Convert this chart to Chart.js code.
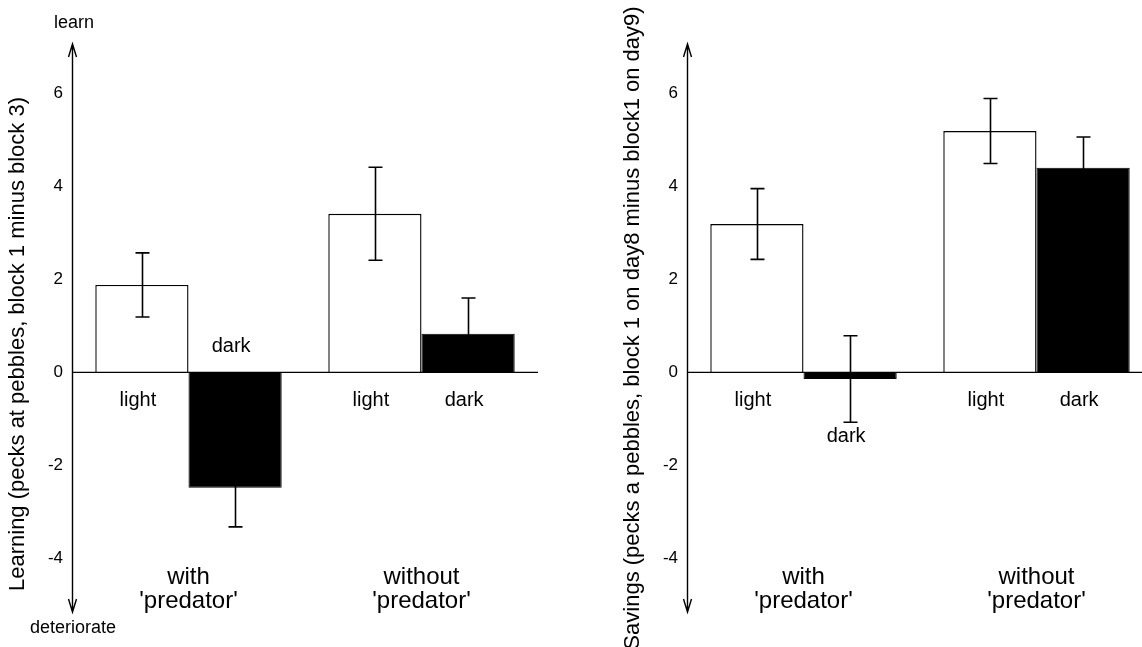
<!DOCTYPE html>
<html>
<head>
<meta charset="utf-8">
<script src="https://cdn.jsdelivr.net/npm/chart.js@4/dist/chart.umd.min.js"></script>
<style>
html,body{margin:0;padding:0;background:#fff;overflow:hidden;width:1142px;height:647px}
canvas{position:absolute;top:0}
#left{left:0}
#right{left:571px}
</style>
</head>
<body>
<canvas id="left" width="571" height="647"></canvas>
<canvas id="right" width="582" height="647"></canvas>
<script>
// groups on the x axis, two bars each (light, dark)
const groups=["with","without"]
const groupLines=[["with","'predator'"],["without","'predator'"]]
const barNames=["light","dark"]
const yTicks=[-4,-2,0,2,4,6]

// left panel: learning
const learnLight=[1.87,3.40]
const learnLightErr=[0.69,1.0]
const learnDark=[-2.49,0.82]
const learnDarkErr=[0.84,0.77]

// right panel: savings
const saveLight=[3.18,5.18]
const saveLightErr=[0.76,0.70]
const saveDark=[-0.15,4.39]
const saveDarkErr=[0.93,0.66]

const FONT="'Liberation Sans', Arial, sans-serif"
Chart.defaults.font.family=FONT
Chart.defaults.color="#000"

const decor={
id:"decor",
afterDatasetsDraw(chart,args,o){
const c=chart.ctx, a=chart.chartArea, ys=chart.scales.y, xs=chart.scales.x
const y0=ys.getPixelForValue(0)
c.save()
c.strokeStyle="#000"
c.fillStyle="#000"

// zero line
c.lineWidth=1.3
c.beginPath()
c.moveTo(a.left,y0+0.5)
c.lineTo(a.right,y0+0.5)
c.stroke()

// error bars
c.lineWidth=1.6
o.errs.forEach((errs,d)=>{
const meta=chart.getDatasetMeta(d)
meta.data.forEach((bar,i)=>{
const v=chart.data.datasets[d].data[i]
const hi=ys.getPixelForValue(v+errs[i]), lo=ys.getPixelForValue(v-errs[i])
const x=Math.round(bar.x)+0.5
c.beginPath()
c.moveTo(x,hi);c.lineTo(x,lo)
c.moveTo(x-7,hi);c.lineTo(x+7,hi)
c.moveTo(x-7,lo);c.lineTo(x+7,lo)
c.stroke()
})
})

// y axis with arrows
const ax=a.left+0.5
c.lineWidth=1.4
c.beginPath()
c.moveTo(ax,a.top);c.lineTo(ax,a.bottom)
c.moveTo(ax-4,a.top+13);c.lineTo(ax,a.top);c.lineTo(ax+4,a.top+13)
c.moveTo(ax-4,a.bottom-13);c.lineTo(ax,a.bottom);c.lineTo(ax+4,a.bottom-13)
c.stroke()

// bar labels
c.textAlign="center"
c.textBaseline="middle"
c.font="20px "+FONT
o.labelOffsets.forEach((offs,d)=>{
const meta=chart.getDatasetMeta(d)
meta.data.forEach((bar,i)=>{
c.fillText(barNames[d],bar.x-4,y0+offs[i])
})
})

// group labels
c.font="24px "+FONT
groups.forEach((g,i)=>{
const x=xs.getPixelForValue(i)
groupLines[i].forEach((t,k)=>c.fillText(t,x,577+k*24))
})

// y title
c.font="22px "+FONT
c.translate(o.titleX,o.titleY)
c.rotate(-Math.PI/2)
c.fillText(o.title,0,0)
c.restore()

if(o.ends){
c.save()
c.fillStyle="#000"
c.textAlign="center"
c.textBaseline="middle"
c.font="18px "+FONT
c.fillText(o.ends[0],a.left+2,23)
c.fillText(o.ends[1],a.left+1,628)
c.restore()
}
}
}

function makeChart(id,light,lightErr,dark,darkErr,yWidth,padRight,plug){
return new Chart(document.getElementById(id),{
type:"bar",
data:{
labels:groups,
datasets:[
{label:barNames[0],data:light,backgroundColor:"#fff",borderColor:"#000",borderWidth:1.4},
{label:barNames[1],data:dark,backgroundColor:"#000",borderColor:"#000",borderWidth:1}
]
},
options:{
responsive:false,
animation:false,
devicePixelRatio:1,
layout:{padding:{left:0,right:padRight,top:44,bottom:35}},
datasets:{bar:{barPercentage:1,categoryPercentage:0.8}},
plugins:{
legend:{display:false},
tooltip:{enabled:false},
decor:Object.assign({errs:[lightErr,darkErr]},plug)
},
scales:{
x:{display:false,afterFit:s=>{s.height=0}},
y:{
min:-5.16,max:7.05,
afterFit:s=>{s.width=yWidth},
afterBuildTicks:s=>{s.ticks=yTicks.map(v=>({value:v}))},
grid:{display:false,drawTicks:false},
border:{display:false},
ticks:{padding:9,font:{size:17},color:"#000"}
}
}
},
plugins:[decor]
})
}

makeChart("left",learnLight,learnLightErr,learnDark,learnDarkErr,72,33,{
labelOffsets:[[29,29],[-25,29]],
title:"Learning (pecks at pebbles, block 1 minus block 3)",
titleX:18,titleY:344,
ends:["learn","deteriorate"]
})

makeChart("right",saveLight,saveLightErr,saveDark,saveDarkErr,116,0,{
labelOffsets:[[29,29],[65,29]],
title:"Savings (pecks a pebbles, block 1 on day8 minus block1 on day9)",
titleX:62,titleY:328
})
</script>
</body>
</html>
